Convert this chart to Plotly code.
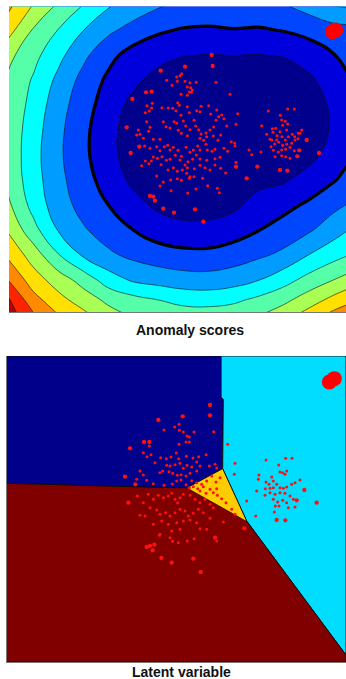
import plotly.graph_objects as go

# ---------------- Panel 1: anomaly score field ----------------
score_x = [-276, -200, -125, -50, 25, 100, 175, 250, 325, 400, 475, 550, 625, 700, 740]
score_y = [-102, -30, 45, 120, 195, 270, 345, 420, 495, 570, 645, 720, 780, 818]
score_z = [
    [8.24, 6.92, 5.82, 4.94, 4.06, 3.56, 3.09, 2.76, 2.72, 2.79, 2.75, 2.90, 3.37, 4.00, 4.10],
    [7.40, 5.91, 4.97, 4.02, 3.21, 2.64, 2.14, 1.92, 1.86, 1.95, 1.90, 2.05, 2.30, 2.60, 2.68],
    [6.28, 5.31, 4.29, 3.23, 2.30, 1.60, 1.33, 1.05, 0.97, 1.02, 0.97, 1.08, 1.45, 1.95, 2.30],
    [5.85, 4.90, 3.76, 2.68, 1.81, 1.23, 0.65, 0.32, 0.31, 0.47, 0.14, 0.29, 0.80, 1.47, 1.85],
    [5.85, 4.63, 3.44, 2.39, 1.56, 0.69, 0.01, 0.00, 0.00, 0.00, 0.00, 0.00, 0.37, 1.22, 1.64],
    [5.70, 4.46, 3.25, 2.23, 1.37, 0.41, 0.00, 0.00, 0.00, 0.00, 0.00, 0.00, 0.31, 1.15, 1.55],
    [5.70, 4.36, 3.19, 2.22, 1.36, 0.44, 0.00, 0.00, 0.00, 0.00, 0.00, 0.10, 0.67, 1.42, 1.80],
    [5.75, 4.44, 3.28, 2.40, 1.57, 0.78, 0.12, 0.00, 0.00, 0.09, 0.72, 0.87, 1.38, 1.92, 2.26],
    [6.20, 4.65, 3.45, 2.66, 2.00, 1.32, 0.79, 0.49, 0.48, 0.77, 1.37, 1.70, 2.15, 2.73, 3.02],
    [6.90, 5.34, 3.94, 3.11, 2.53, 2.00, 1.51, 1.32, 1.33, 1.55, 1.97, 2.41, 2.85, 3.56, 3.95],
    [7.80, 6.54, 5.06, 3.86, 3.18, 2.76, 2.46, 2.27, 2.25, 2.48, 2.82, 3.21, 4.00, 4.63, 4.93],
    [9.00, 7.48, 6.52, 5.61, 4.50, 3.86, 3.62, 3.44, 3.40, 3.57, 3.97, 4.60, 5.34, 6.00, 6.33],
    [10.15, 8.38, 7.34, 6.53, 5.77, 5.33, 5.00, 4.67, 4.60, 4.79, 5.23, 5.73, 6.50, 7.30, 7.75],
    [10.50, 9.00, 7.90, 7.15, 6.30, 5.75, 5.55, 5.38, 5.35, 5.48, 5.80, 6.43, 7.25, 8.15, 8.40],
]
score_levels = [1, 10, 1]        # start, end, step
threshold_level = 2              # thick contour

top_small_x = [230, 240, 245, 232, 216, 200, 255, 270, 289, 262, 272, 277, 268, 274, 243, 262, 348, 390,
               157, 141, 155, 148, 136, 186, 205, 218, 228, 233, 238, 243, 262, 268, 290, 300, 303, 326,
               332, 350, 356, 365, 372, 380, 348, 341, 330, 320, 413, 408,
               115, 120, 110, 140, 150, 146, 130, 160, 180, 190, 198, 210, 222, 230, 235, 244, 250, 257,
               262, 270, 282, 287, 296, 300, 311, 318, 303, 340, 354, 362, 394, 404, 405,
               134, 150, 170, 180, 193, 203, 210, 220, 234, 244, 258, 270, 280, 293, 300, 318, 322, 336,
               345, 372, 383, 360, 345, 320, 300, 289, 278, 264, 255, 240, 226, 210, 199, 186, 172, 160,
               154, 136, 147,
               125, 183, 204, 220, 232, 247, 262, 260, 270, 283, 300, 315, 330, 345, 362, 377, 408, 170,
               190, 212, 232, 244, 268, 282, 308, 323, 352, 358, 180, 213, 263, 288,
               505, 541, 563, 583, 545, 556, 563, 548, 527, 517, 519, 531, 546, 556, 565, 577, 584, 594,
               605, 600, 585, 575, 560, 548, 536, 524, 513, 520, 535, 525, 545, 557, 570, 583, 557, 545,
               570, 510, 500, 485, 483, 455, 447, 595, 515, 530, 560, 540]
top_small_y = [111, 107, 101, 124, 136, 121, 124, 128, 127, 141, 143, 150, 156, 157, 163, 166, 127, 163,
               190, 197, 204, 213, 218, 203, 204, 205, 212, 188, 196, 226, 200, 218, 212, 215, 199, 197,
               222, 210, 230, 225, 236, 258, 241, 261, 270, 290, 221, 253,
               270, 283, 285, 245, 262, 274, 295, 298, 298, 245, 260, 264, 245, 250, 271, 280, 243, 258,
               287, 269, 241, 258, 269, 295, 301, 279, 282, 288, 301, 285, 305, 310, 318,
               318, 325, 320, 332, 320, 316, 330, 322, 331, 349, 322, 337, 330, 318, 330, 313, 330, 334,
               328, 325, 334, 352, 356, 361, 357, 345, 358, 365, 375, 360, 346, 358, 361, 350, 355, 351,
               363, 363, 371,
               377, 374, 390, 383, 394, 390, 383, 400, 410, 386, 376, 383, 390, 375, 385, 399, 367, 408,
               426, 420, 416, 421, 415, 410, 415, 437, 445, 458, 438, 452, 459, 447,
               213, 226, 207, 207, 240, 244, 252, 256, 265, 266, 277, 287, 290, 300, 290, 283, 290, 296,
               270, 280, 300, 310, 313, 316, 307, 312, 320, 331, 336, 350, 347, 350, 355, 332, 328, 330,
               322, 298, 283, 257, 336, 344, 330, 280, 300, 300, 270, 275]
top_big_x = [335, 255, 338, 182, 138, 155, 97, 80, 92, 118, 440, 310, 285, 222, 190, 165, 160, 150,
             540, 562, 592, 598, 620, 657, 472, 408]
top_big_y = [45, 80, 78, 92, 157, 155, 177, 262, 339, 320, 415, 545, 508, 518, 506, 482, 470, 468,
             390, 392, 349, 331, 300, 339, 380, 380]
top_blob_x = [697, 707]
top_blob_y = [-25, -30]

# ---------------- Panel 2: latent variable regions ----------------
navy_x = [-279, 365, 365, 370, 368, 262, 165, 55, -60, -170, -279]
navy_y = [0, 0, 125, 130, 338, 395, 394, 392, 389, 385, 382]
cyan_x = [365, 738, 738, 440, 368, 370, 365]
cyan_y = [0, 0, 897, 495, 338, 130, 125]
red_x = [-279, -170, -60, 55, 165, 262, 440, 738, 738, -279]
red_y = [382, 385, 389, 392, 394, 395, 495, 897, 918, 918]
gold_x = [262, 368, 440]
gold_y = [395, 338, 495]

bot_small_x = [192, 224, 237, 238, 250, 261, 268, 282, 258, 268, 237, 148, 341, 130, 141, 153, 165, 182,
               199, 213, 229, 236, 259, 279, 296, 318, 290, 275, 261, 250, 240, 225, 210, 200, 188, 180,
               207, 218, 232, 243, 258, 270, 290, 300, 328, 345, 350, 120, 130, 110, 140, 160, 192, 217,
               230, 243, 258, 275,
               112, 130, 145, 160, 175, 190, 205, 215, 225, 233, 240, 250, 270, 285, 300, 315, 330, 340,
               150, 170, 180, 197, 210, 225, 240, 255, 265, 280, 295, 310, 135, 120, 160, 185, 205, 230,
               250, 270, 290, 300, 320, 240, 215, 180, 330, 350, 282, 262, 218, 210, 178, 235, 370,
               268, 280, 293, 300, 310, 318, 330, 340, 350, 352, 365, 378, 348, 360, 335, 320, 305, 290,
               395, 405,
               498, 557, 576, 536, 540, 548, 555, 560, 515, 520, 507, 520, 530, 540, 550, 560, 575, 585,
               600, 496, 495, 510, 525, 540, 555, 570, 580, 520, 533, 548, 560, 526, 537, 565, 585,
               523, 475, 470, 440, 467, 405, 383, 403, 477, 498, 510]
bot_small_y = [222, 213, 205, 223, 228, 240, 243, 228, 258, 258, 265, 270, 227, 290, 302, 296, 320, 305,
               308, 303, 291, 308, 301, 306, 302, 296, 318, 333, 328, 337, 322, 326, 330, 328, 345, 350,
               347, 352, 358, 356, 360, 352, 345, 330, 330, 325, 336, 345, 357, 370, 373, 383, 388, 384,
               375, 372, 386, 374,
               420, 440, 415, 430, 418, 425, 420, 412, 430, 440, 425, 415, 418, 430, 440, 430, 445, 455,
               455, 462, 475, 470, 480, 470, 460, 465, 480, 472, 460, 470, 480, 478, 505, 495, 505, 500,
               495, 492, 500, 518, 520, 520, 525, 535, 487, 555, 548, 555, 556, 545, 538, 560, 498,
               395, 392, 398, 405, 392, 412, 400, 410, 398, 418, 428, 440, 378, 365, 360, 375, 385, 380,
               460, 475,
               312, 307, 307, 327, 348, 350, 355, 345, 363, 375, 385, 395, 385, 395, 397, 393, 385, 380,
               372, 398, 418, 410, 415, 410, 412, 420, 430, 430, 438, 433, 440, 450, 450, 455, 453,
               468, 370, 405, 435, 480, 322, 265, 355, 357, 378, 397]
bot_big_x = [330, 330, 175, 248, 90, 132, 148, 75, 106, 85, 140, 150, 163, 158, 184, 215, 280, 302, 433,
             530, 556, 650, 590, 613, 345]
bot_big_y = [147, 178, 192, 181, 277, 258, 258, 362, 385, 440, 573, 570, 566, 583, 606, 620, 608, 648, 517,
             492, 493, 440, 433, 402, 545]
bot_blob_x = [688, 703]
bot_blob_y = [78, 68]

band_colors = ["#00008C", "#0000DC", "#0046FF", "#009CFF", "#00FFFF", "#55FFAA",
               "#AAFF55", "#FFE000", "#FF8A00", "#FF2400", "#B80000"]
point_color = "#FF1010"

W, H = 346, 679
fig = go.Figure()

# ---- top panel ----
fig.add_trace(go.Contour(
    x=score_x, y=score_y, z=score_z, xaxis="x", yaxis="y",
    contours=dict(start=score_levels[0], end=score_levels[1], size=score_levels[2],
                  coloring="fill", showlines=True),
    colorscale=[[i / (len(band_colors) - 1), c] for i, c in enumerate(band_colors)],
    line=dict(color="rgba(15,15,15,0.85)", width=0.7, smoothing=1.3),
    showscale=False, hoverinfo="skip"))
fig.add_trace(go.Contour(
    x=score_x, y=score_y, z=score_z, xaxis="x", yaxis="y",
    contours=dict(start=threshold_level, end=threshold_level, size=1, coloring="none"),
    line=dict(color="black", width=3.2, smoothing=1.3),
    showscale=False, hoverinfo="skip"))
fig.add_trace(go.Scatter(x=top_small_x, y=top_small_y, xaxis="x", yaxis="y", mode="markers",
                         marker=dict(color=point_color, size=3.0, line=dict(width=0)), hoverinfo="skip"))
fig.add_trace(go.Scatter(x=top_big_x, y=top_big_y, xaxis="x", yaxis="y", mode="markers",
                         marker=dict(color=point_color, size=4.3, line=dict(width=0)), hoverinfo="skip"))
fig.add_trace(go.Scatter(x=top_blob_x, y=top_blob_y, xaxis="x", yaxis="y", mode="markers",
                         marker=dict(color="#FF0000", size=15, line=dict(width=0)), hoverinfo="skip"))

# ---- bottom panel ----
for rx, ry, col in [(navy_x, navy_y, "#00008B"), (cyan_x, cyan_y, "#00DDFF"),
                    (red_x, red_y, "#800000"), (gold_x, gold_y, "#FFCC00")]:
    fig.add_trace(go.Scatter(x=rx, y=ry, xaxis="x2", yaxis="y2", mode="lines", fill="toself",
                             fillcolor=col, line=dict(color="rgba(10,10,10,0.9)", width=1),
                             hoverinfo="skip"))
fig.add_trace(go.Scatter(x=bot_small_x, y=bot_small_y, xaxis="x2", yaxis="y2", mode="markers",
                         marker=dict(color=point_color, size=3.0, line=dict(width=0)), hoverinfo="skip"))
fig.add_trace(go.Scatter(x=bot_big_x, y=bot_big_y, xaxis="x2", yaxis="y2", mode="markers",
                         marker=dict(color=point_color, size=4.3, line=dict(width=0)), hoverinfo="skip"))
fig.add_trace(go.Scatter(x=bot_blob_x, y=bot_blob_y, xaxis="x2", yaxis="y2", mode="markers",
                         marker=dict(color="#FF0000", size=15, line=dict(width=0)), hoverinfo="skip"))

ax_common = dict(showgrid=False, zeroline=False, showticklabels=False, ticks="", fixedrange=True)
fig.update_layout(
    width=W, height=H, autosize=False,
    margin=dict(l=0, r=0, t=0, b=0, pad=0),
    paper_bgcolor="white", plot_bgcolor="white", showlegend=False,
    xaxis=dict(domain=[9 / W, 1], range=[-273, 738], anchor="y",
               showline=True, linecolor="#777777", linewidth=1, **ax_common),
    yaxis=dict(domain=[1 - 312.3 / H, 1 - 6.7 / H], range=[817, -100], anchor="x",
               showline=False, **ax_common),
    xaxis2=dict(domain=[7 / W, 1], range=[-279, 738], anchor="y2",
                showline=True, linecolor="#777777", linewidth=1, **ax_common),
    yaxis2=dict(domain=[1 - 662 / H, 1 - 356 / H], range=[918, 0], anchor="x2",
                showline=True, linecolor="#777777", linewidth=1, **ax_common),
    annotations=[
        dict(text="Anomaly scores", x=190 / W, y=1 - 330 / H, xref="paper", yref="paper",
             xanchor="center", yanchor="middle", showarrow=False,
             font=dict(family="Liberation Sans, Arial, sans-serif", size=14, color="#111111",
                       weight="bold")),
        dict(text="Latent variable", x=181 / W, y=1 - 672 / H, xref="paper", yref="paper",
             xanchor="center", yanchor="middle", showarrow=False,
             font=dict(family="Liberation Sans, Arial, sans-serif", size=14, color="#111111",
                       weight="bold")),
    ],
)

fig.write_html("out.html", include_plotlyjs=True,
               config={"displayModeBar": False, "staticPlot": True},
               post_script="document.body.style.margin='0';document.body.style.padding='0';"
                           "document.body.style.overflow='hidden';")
